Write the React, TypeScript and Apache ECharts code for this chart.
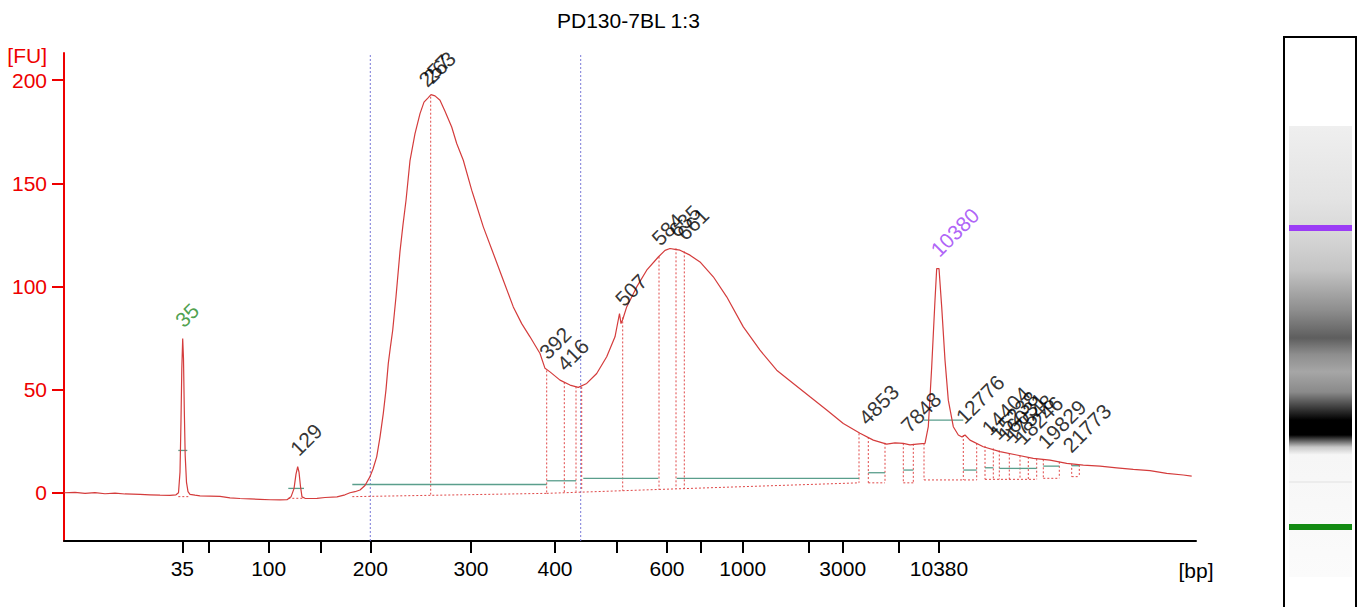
import React, { useEffect, useRef } from 'react';
import * as echarts from 'echarts';

const FONT = '"Liberation Sans", Arial, sans-serif';

// Migration-time axis (arbitrary time units) with ladder sizes in bp
const ladderBp = [35, 50, 100, 150, 200, 300, 400, 500, 600, 700, 1000, 2000, 3000, 7000, 10380];
const ladderTime = [53.23, 55.83, 61.87, 67.07, 72.03, 82.1, 90.5, 96.67, 101.7, 105.07, 109.27, 115.9, 119.27, 124.9, 128.9];
const labeledBp = [35, 100, 200, 300, 400, 600, 1000, 3000, 10380];
const yTicks = [0, 50, 100, 150, 200];

// Electropherogram trace
const traceTime = [41.4, 42.5, 43.5, 44.5, 45.5, 46.5, 47.5, 49.0, 50.0, 51.0, 52.0, 52.6, 52.85, 53.0, 53.1, 53.18, 53.27, 53.35, 53.43, 53.52, 53.65, 53.8, 54.0, 54.5, 55.0, 56.0, 57.0, 58.0, 59.0, 60.0, 61.0, 62.0, 63.0, 63.7, 64.1, 64.4, 64.6, 64.77, 64.9, 65.05, 65.2, 65.5, 66.0, 66.7, 67.5, 68.7, 69.5, 70.0, 70.5, 71.0, 71.5, 72.0, 72.3, 72.67, 73.0, 73.33, 73.6, 73.83, 74.05, 74.27, 74.6, 75.0, 75.3, 75.6, 76.0, 76.5, 77.0, 77.4, 77.83, 78.1, 78.5, 79.0, 79.5, 80.17, 80.67, 81.33, 82.17, 82.5, 83.33, 84.33, 85.33, 86.33, 87.17, 88.0, 89.0, 89.5, 90.0, 91.0, 92.0, 92.83, 93.67, 94.67, 95.67, 96.5, 96.95, 97.1, 97.27, 97.67, 98.67, 99.67, 100.83, 101.5, 102.0, 102.5, 103.0, 104.0, 105.0, 106.33, 107.67, 109.33, 111.0, 112.67, 114.33, 116.0, 117.67, 119.33, 121.0, 122.33, 123.67, 124.5, 125.33, 126.0, 126.67, 127.5, 127.83, 128.17, 128.5, 128.67, 128.9, 129.17, 129.5, 129.83, 130.33, 130.83, 131.2, 131.5, 132.0, 133.33, 135.0, 136.67, 138.33, 140.0, 141.67, 143.33, 145.0, 146.67, 148.33, 150.0, 151.67, 153.33, 154.17];
const traceFU = [0.0, 0.2, -0.3, 0.1, -0.5, -0.2, -0.6, -0.8, -1.0, -1.2, -1.3, -1.0, 0.0, 10, 35, 60, 74.8, 65, 40, 18, 5, 0.5, -0.8, -1.2, -1.5, -1.6, -1.8, -2.5, -2.8, -3.0, -3.2, -3.4, -3.5, -3.4, -2.0, 2, 9, 12.6, 10, 3, -2, -2.7, -2.8, -2.7, -2.3, -2.0, -1.0, 0, 0.5, 1.3, 3.5, 7.8, 11.5, 17.4, 27, 38.5, 50, 62.7, 71, 78.8, 95, 117, 130, 141.7, 161, 174.1, 183.8, 189.4, 191.6, 193, 192.4, 190.3, 185, 177.3, 169.3, 161.2, 146.7, 141.7, 128.9, 116, 103, 90.1, 82, 75.6, 67.5, 60.3, 58.6, 54.6, 52.2, 51.1, 53, 57.8, 65.9, 75.6, 86.9, 82, 84, 90.1, 99.8, 107.9, 114.3, 117.5, 118.4, 118, 117.6, 115.2, 111.9, 104.7, 95, 80.4, 69.1, 59.4, 53, 46.5, 40.1, 33.6, 28.8, 25.5, 23.6, 24.2, 23.9, 23.2, 23.6, 23.9, 32, 61, 93.4, 108.7, 108.7, 90.1, 64.3, 44.9, 32, 28, 27, 28, 25.5, 22.3, 19.9, 18.3, 16.7, 15.8, 14.2, 13.4, 12.9, 12.1, 11.3, 10.7, 9.4, 8.6, 8.1];

// Peak annotations
const peakNames = ['35', '129', '257', '263', '392', '416', '507', '584', '635', '661', '4853', '7848', '10380', '12776', '14404', '15238', '16031', '17548', '18246', '19829', '21773'];
const peakTime = [53.27, 64.77, 77.6, 78.1, 89.67, 91.43, 97.27, 100.9, 102.6, 103.43, 121.6, 125.83, 128.8, 131.33, 133.9, 134.7, 135.5, 136.3, 137.2, 139.5, 142.0];
const peakFU = [74.8, 12.6, 191.5, 193, 59.3, 53.6, 85, 114.5, 118.5, 117, 27.5, 23.8, 109, 28, 22.5, 20.3, 19.5, 18.6, 17.9, 16, 14.1];
const lowerMarker = '35';
const upperMarker = '10380';

// Peak boundary verticals (dotted red)
const vTime = [78.07, 89.67, 91.43, 92.6, 93.17, 97.27, 100.9, 102.6, 103.43, 120.9, 121.83, 123.5, 125.33, 126.33, 127.4, 131.33, 132.67, 133.5, 134.33, 134.93, 135.93, 137.0, 137.83, 138.67, 139.33, 140.93, 142.17, 142.93];
const vTop = [192, 59.3, 53.6, 51.5, 51.3, 85, 114.5, 118.5, 117, 28.8, 27, 24.2, 24, 23.7, 23.9, 28, 24, 22.7, 21.5, 20.5, 19, 18, 17.3, 16.5, 16.2, 15, 14, 13.5];
const vBottom = [-0.9, -0.3, 0.3, 0.5, 0.8, 1.0, 1.6, 1.9, 2.0, 4.8, 4.8, 4.8, 4.8, 4.8, 6.2, 6.2, 6.2, 6.5, 6.5, 6.5, 6.5, 6.5, 6.5, 6.5, 7, 7, 7.8, 7.8];

// Baselines (dotted red)
const baseT0 = [52.83, 63.83, 70.23, 89.67, 100.9, 121.83, 125.33, 127.4, 133.5, 139.33, 142.17];
const baseT1 = [54.0, 65.4, 89.67, 100.9, 120.9, 123.5, 126.33, 132.67, 138.67, 140.93, 142.93];
const baseV0 = [-1.9, -2.7, -1.9, -0.3, 1.6, 4.8, 4.8, 6.2, 6.5, 7, 7.8];
const baseV1 = [-1.9, -2.7, -0.3, 1.6, 4.8, 4.8, 4.8, 6.2, 6.5, 7, 7.8];

// Peak width lines (teal)
const tealT0 = [52.83, 63.83, 70.23, 89.67, 93.33, 102.67, 121.83, 125.33, 127.4, 131.33, 133.5, 134.93, 137.83, 139.33, 142.17];
const tealT1 = [53.73, 65.4, 89.67, 92.6, 100.83, 120.9, 123.5, 126.33, 131.33, 132.67, 134.33, 137.83, 138.67, 140.93, 142.93];
const tealV = [20.5, 2.1, 4.0, 5.8, 7.0, 7.0, 9.7, 11.0, 35.2, 11.0, 12.1, 11.8, 11.8, 12.9, 13.1];

// Region of interest borders (dotted blue)
const regionTime = [72.03, 93.07];

const X_MIN = 41.4;
const X_MAX = 154.6;
const Y_MIN = -23.4;
const Y_MAX = 213.2;

function seg(points: number[][], lineStyle: any, z = 2) {
  return {
    type: 'line',
    data: points,
    symbol: 'none',
    silent: true,
    lineStyle,
    z,
  };
}

function buildOption() {
  const RED_DOT = { color: '#e04848', width: 1, type: [2, 2] };
  const TEAL = { color: '#5a9e8c', width: 1.3, type: 'solid' };
  const BLUE_DOT = { color: '#7a7ad8', width: 1, type: [2, 2] };

  const series: any[] = [];
  regionTime.forEach((t) => series.push(seg([[t, Y_MIN], [t, Y_MAX]], BLUE_DOT, 1)));
  vTime.forEach((t, i) => series.push(seg([[t, vTop[i]], [t, vBottom[i]]], RED_DOT)));
  baseT0.forEach((t, i) => series.push(seg([[t, baseV0[i]], [baseT1[i], baseV1[i]]], RED_DOT)));
  tealT0.forEach((t, i) => series.push(seg([[t, tealV[i]], [tealT1[i], tealV[i]]], TEAL, 3)));

  series.push({
    type: 'line',
    data: traceTime.map((t, i) => [t, traceFU[i]]),
    symbol: 'none',
    silent: true,
    lineStyle: { color: '#d43c3c', width: 1.2 },
    z: 4,
  });

  series.push({
    type: 'scatter',
    symbolSize: 1,
    silent: true,
    itemStyle: { color: 'rgba(0,0,0,0)' },
    z: 5,
    data: peakNames.map((n, i) => ({
      name: n,
      value: [peakTime[i], peakFU[i]],
      label: {
        color: n === lowerMarker ? '#1f8a1f' : n === upperMarker ? '#9b3cf5' : '#000',
      },
    })),
    label: {
      show: true,
      formatter: (p: any) => p.name,
      rotate: 45,
      position: [4, -7],
      align: 'left',
      verticalAlign: 'bottom',
      fontSize: 21,
      fontFamily: FONT,
    },
  });

  const bpOf = (v: number) => {
    let best = 0;
    ladderTime.forEach((t, i) => {
      if (Math.abs(t - v) < Math.abs(ladderTime[best] - v)) best = i;
    });
    return String(ladderBp[best]);
  };

  return {
    animation: false,
    textStyle: { fontFamily: FONT },
    title: {
      text: 'PD130-7BL 1:3',
      left: 552,
      top: 5,
      textStyle: { fontSize: 21, fontWeight: 'normal', color: '#000', fontFamily: FONT },
    },
    grid: { left: 64, right: 165, top: 53, bottom: 66 },
    xAxis: {
      type: 'value',
      min: X_MIN,
      max: X_MAX,
      name: '[bp]',
      nameLocation: 'end',
      nameGap: 0,
      nameTextStyle: { fontSize: 21, color: '#000', align: 'center', verticalAlign: 'top', padding: [19, 0, 0, 0], fontFamily: FONT },
      axisLine: { show: true, onZero: false, lineStyle: { color: '#000', width: 2 } },
      axisTick: { show: true, length: 12, lineStyle: { color: '#000', width: 2 }, customValues: ladderTime },
      axisLabel: {
        customValues: labeledBp.map((b) => ladderTime[ladderBp.indexOf(b)]),
        formatter: (v: number) => bpOf(v),
        fontSize: 21,
        color: '#000',
        margin: 17,
        fontFamily: FONT,
      },
      splitLine: { show: false },
    },
    yAxis: {
      type: 'value',
      min: Y_MIN,
      max: Y_MAX,
      name: '[FU]',
      nameLocation: 'end',
      nameGap: -2,
      nameTextStyle: { fontSize: 21, color: '#ee0000', align: 'right', verticalAlign: 'middle', padding: [0, 17, 0, 0], fontFamily: FONT },
      axisLine: { show: true, onZero: false, lineStyle: { color: '#ee0000', width: 2 } },
      axisTick: { show: true, length: 12, lineStyle: { color: '#ee0000', width: 2 }, customValues: yTicks },
      axisLabel: { customValues: yTicks, fontSize: 21, color: '#ee0000', margin: 17, fontFamily: FONT },
      splitLine: { show: false },
    },
    graphic: [
      {
        type: 'rect',
        shape: { x: 1284, y: 37, width: 72, height: 590 },
        style: { fill: '#ffffff', stroke: '#000', lineWidth: 2 },
        silent: true,
      },
      {
        type: 'rect',
        shape: { x: 1289, y: 126, width: 63, height: 451 },
        style: {
          fill: {
            type: 'linear', x: 0, y: 0, x2: 0, y2: 1,
            colorStops: [
              { offset: 0, color: '#efefef' },
              { offset: 0.164, color: '#e3e3e3' },
              { offset: 0.231, color: '#d9d9d9' },
              { offset: 0.319, color: '#c4c4c4' },
              { offset: 0.408, color: '#8e8e8e' },
              { offset: 0.47, color: '#5e5e5e' },
              { offset: 0.507, color: '#8e8e8e' },
              { offset: 0.545, color: '#a6a6a6' },
              { offset: 0.59, color: '#8a8a8a' },
              { offset: 0.63, color: '#303030' },
              { offset: 0.652, color: '#000000' },
              { offset: 0.685, color: '#000000' },
              { offset: 0.712, color: '#c8c8c8' },
              { offset: 0.729, color: '#f6f6f6' },
              { offset: 1, color: '#fbfbfb' },
            ],
          },
        },
        silent: true,
      },
      { type: 'rect', shape: { x: 1289, y: 481, width: 63, height: 2 }, style: { fill: '#ececec' }, silent: true },
      { type: 'rect', shape: { x: 1289, y: 225, width: 63, height: 6 }, style: { fill: '#9b3cf5' }, silent: true },
      { type: 'rect', shape: { x: 1289, y: 524, width: 63, height: 6 }, style: { fill: '#128a12' }, silent: true },
    ],
    series,
  };
}

export default function App() {
  const ref = useRef<HTMLDivElement>(null);
  useEffect(() => {
    if (!ref.current) return;
    const chart = echarts.init(ref.current, null, { renderer: 'svg' });
    chart.setOption(buildOption() as any);
    return () => chart.dispose();
  }, []);
  return (
    <div
      ref={ref}
      style={{ position: 'absolute', left: 0, top: 0, width: 1361, height: 607, background: '#fff' }}
    />
  );
}
